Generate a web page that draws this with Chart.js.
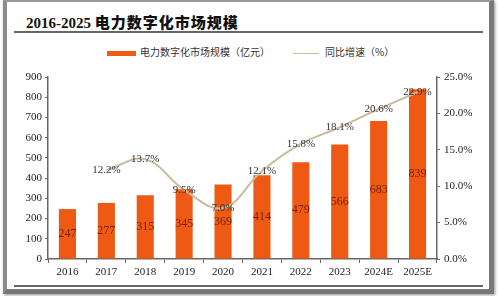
<!DOCTYPE html>
<html lang="zh">
<head>
  <meta charset="UTF-8">
  <title>2016-2025 电力数字化市场规模</title>
  <script src="https://cdn.jsdelivr.net/npm/chart.js"></script>
  <style>
    body { margin: 0; width: 498px; height: 296px; background: #fff; position: relative; overflow: hidden; }
    .frame {
      position: absolute; left: 3px; top: 0; width: 482px; height: 287px;
      border-left: 4px solid #8c8c8c; border-top: 2px solid #9a9a9a;
      border-right: 5px solid #777; border-bottom: 5px solid #777;
      box-shadow: 1px 1px 3px rgba(0,0,0,0.45);
    }
    .title {
      position: absolute; left: 26px; top: 11px;
      font: bold 15px "Liberation Serif", "Noto Sans CJK SC", serif; color: #111;
      white-space: nowrap;
    }
    .title .cn { font-family: "Noto Sans CJK SC", serif; font-size: 15px; letter-spacing: 1px; font-weight: 900; }
    .rule { position: absolute; left: 14px; width: 469px; height: 0; border-top: 2px solid #666; }
    .legend { position: absolute; top: 44px; font: 10px "Noto Sans CJK SC", serif; color: #333; white-space: nowrap; }
    .legend .box { display: inline-block; width: 29px; height: 5px; vertical-align: middle; margin-right: 4px; }
    .legend .ln { display: inline-block; width: 26px; height: 0; border-top: 1.5px solid #c9bc9e; vertical-align: middle; margin-right: 6px; }
    #chart { position: absolute; left: 9px; top: 60px; }
  </style>
</head>
<body>
  <div class="frame"></div>
  <div class="title">2016-2025 <span class="cn">电力数字化市场规模</span></div>
  <div class="rule" style="top:31px"></div>

  <!-- legend -->
  <div class="legend" style="left:107px"><span class="box" style="background:#EE5A14"></span>电力数字化市场规模（亿元）</div>
  <div class="legend" style="left:293px"><span class="ln"></span>同比增速（%）</div>

  <canvas id="chart" width="478" height="226"></canvas>
  <div class="rule" style="top:285px"></div>

  <script>
    const years = ['2016', '2017', '2018', '2019', '2020', '2021', '2022', '2023', '2024E', '2025E'];
    const marketSize = [247, 277, 315, 345, 369, 414, 479, 566, 683, 839];
    const growthRate = [null, 12.2, 13.7, 9.5, 7.0, 12.1, 15.8, 18.1, 20.6, 22.9];
    const leftTicks = [0, 100, 200, 300, 400, 500, 600, 700, 800, 900];
    const rightTicks = [0, 5, 10, 15, 20, 25];

    const serif = '"Liberation Serif", "Times New Roman", serif';

    // labels inside bars and on line points
    const valueLabels = {
      id: 'valueLabels',
      afterDatasetsDraw(chart) {
        const ctx = chart.ctx;
        ctx.save();
        ctx.textAlign = 'center';
        ctx.textBaseline = 'middle';
        ctx.font = '12px ' + serif;
        ctx.fillStyle = '#7a1e0c';
        chart.getDatasetMeta(1).data.forEach((bar, i) => {
          ctx.fillText(String(marketSize[i]), bar.x, (bar.y + bar.base) / 2);
        });
        ctx.font = '11px ' + serif;
        ctx.fillStyle = '#333';
        chart.getDatasetMeta(0).data.forEach((pt, i) => {
          if (growthRate[i] == null) return;
          ctx.fillText(growthRate[i].toFixed(1) + '%', pt.x, pt.y);
        });
        ctx.restore();
      }
    };

    new Chart(document.getElementById('chart'), {
      data: {
        labels: years,
        datasets: [
          {
            type: 'line',
            label: '同比增速（%）',
            data: growthRate,
            yAxisID: 'y1',
            borderColor: '#c9bc9e',
            borderWidth: 2,
            pointRadius: 0,
            tension: 0.4,
            order: 0
          },
          {
            type: 'bar',
            label: '电力数字化市场规模（亿元）',
            data: marketSize,
            yAxisID: 'y',
            backgroundColor: '#EE5A14',
            categoryPercentage: 1,
            barPercentage: 0.44,
            order: 1
          }
        ]
      },
      options: {
        responsive: false,
        animation: false,
        layout: { padding: { top: 17, left: 0, right: 0, bottom: 0 } },
        plugins: { legend: { display: false }, tooltip: { enabled: false } },
        scales: {
          x: {
            offset: true,
            grid: { offset: true, drawOnChartArea: false, drawTicks: true, tickLength: 4, color: '#666' },
            border: { color: '#666', width: 1.5 },
            ticks: { color: '#222', font: { family: serif, size: 11 }, padding: 3, maxRotation: 0 },
            afterFit: s => { s.height = 27; }
          },
          y: {
            position: 'left',
            min: 0, max: 900,
            afterBuildTicks: s => { s.ticks = leftTicks.map(v => ({ value: v })); },
            grid: { drawOnChartArea: false, tickLength: 3, color: '#666' },
            border: { color: '#666', width: 1.5 },
            ticks: { color: '#222', font: { family: serif, size: 11 }, padding: 3 },
            afterFit: s => { s.width = 39; }
          },
          y1: {
            position: 'right',
            min: 0, max: 25,
            afterBuildTicks: s => { s.ticks = rightTicks.map(v => ({ value: v })); },
            grid: { drawOnChartArea: false, tickLength: 3, color: '#666' },
            border: { color: '#666', width: 1.5 },
            ticks: { color: '#222', font: { family: serif, size: 11 }, padding: 4, callback: v => v.toFixed(1) + '%' },
            afterFit: s => { s.width = 50; }
          }
        }
      },
      plugins: [valueLabels]
    });
  </script>
</body>
</html>
